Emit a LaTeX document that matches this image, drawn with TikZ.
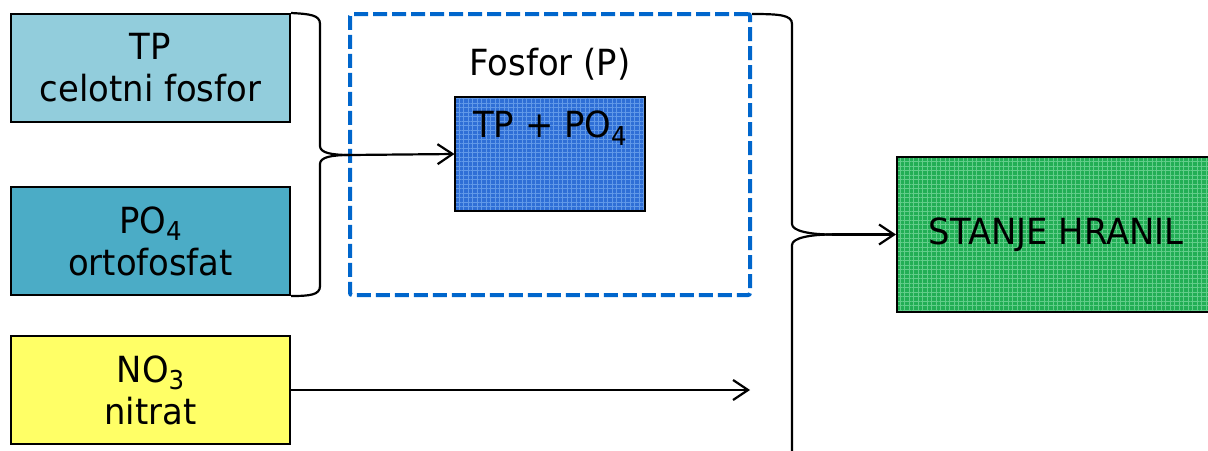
\documentclass[tikz,border=0pt]{standalone}
\usepackage{fontspec}
\setmainfont{DejaVu Sans}[FakeStretch=0.94]
\usetikzlibrary{arrows.meta,patterns.meta}

\definecolor{tplight}{HTML}{92CDDC}
\definecolor{pomid}{HTML}{4BACC6}
\definecolor{nityel}{HTML}{FFFF66}
\definecolor{pblue}{HTML}{2F6FD6}
\definecolor{pbluelt}{HTML}{6199E8}
\definecolor{sgreen}{HTML}{22AE55}
\definecolor{sgreenlt}{HTML}{62CD8A}
\definecolor{dashblue}{HTML}{0066CC}

% lowered subscript in the text font
\newcommand\lowsub[1]{\raisebox{-0.4ex}{\fontsize{26}{26}\selectfont #1}}

\begin{document}
\begin{tikzpicture}[x=1pt,y=-1pt,
  bigtext/.style={font=\fontsize{36}{42}\selectfont},
  inbox/.style={draw=black,line width=2pt,minimum width=279pt,minimum height=108pt,
    inner sep=0pt,align=center,bigtext},
  texture/.style={preaction={fill=#1},pattern={Hatch[angle=0,distance=4.5pt,line width=1pt]}},
  link/.style={line width=2.2pt,-{Straight Barb[length=15pt,width=20pt,line width=2.2pt]}},
  brace/.style={line width=2.2pt}]

\useasboundingbox (0,0) rectangle (1208,450);

% input boxes
\node[inbox,fill=tplight] (tp) at (150.5,68) {TP\\celotni fosfor};
\node[inbox,fill=pomid] (po) at (150.5,241) {PO\lowsub{4}\\ortofosfat};
\node[inbox,fill=nityel] (no) at (150.5,390) {NO\lowsub{3}\\nitrat};

% phosphorus group
\node[draw=dashblue,line width=4pt,dash pattern=on 14pt off 5pt,rounded corners=2pt,
  minimum width=400pt,minimum height=281pt,inner sep=0pt] (fos) at (550,154.5) {};
\node[bigtext] (fostxt) at (550,64) {Fosfor (P)};
\node[draw=black,line width=2pt,texture=pblue,pattern color=pbluelt,
  minimum width=190pt,minimum height=114pt,inner sep=0pt] (tpp) at (550,154) {};
\node[bigtext,anchor=north] (tpptxt) at (550,107) {TP + PO\lowsub{4}};

% result box
\node[draw=black,line width=2pt,texture=sgreen,pattern color=sgreenlt,
  minimum width=318pt,minimum height=155pt,inner sep=0pt,bigtext] (st) at (1056,234.5) {STANJE HRANIL};

% first brace and its arrow
\coordinate (b1tip) at (350,155);
\draw[brace] (tp.north east) .. controls (310,14) and (320,15) .. (320,24) -- (320,146)
  .. controls (320,153) and (332,155) .. (b1tip);
\draw[brace] (b1tip) .. controls (332,155) and (320,157) .. (320,164) -- (320,286)
  .. controls (320,295) and (310,296) .. (po.south east);
\draw[link] (b1tip) -- (tpp.west);

% second brace and its arrow
\coordinate (b2top) at (752,14);
\coordinate (b2tip) at (832,234.5);
\coordinate (b2end) at (792,452);
\draw[brace] (b2top) .. controls (780,14) and (792,15) .. (792,24) -- (792,224)
  .. controls (792,231) and (810,234.5) .. (b2tip);
\draw[brace] (b2tip) .. controls (810,234.5) and (792,238) .. (792,245) -- (b2end);
\draw[link] (b2tip) -- (st.west);

% nitrate arrow
\coordinate (n3end) at (750,390);
\draw[link] (no.east) -- (n3end);
\end{tikzpicture}
\end{document}
